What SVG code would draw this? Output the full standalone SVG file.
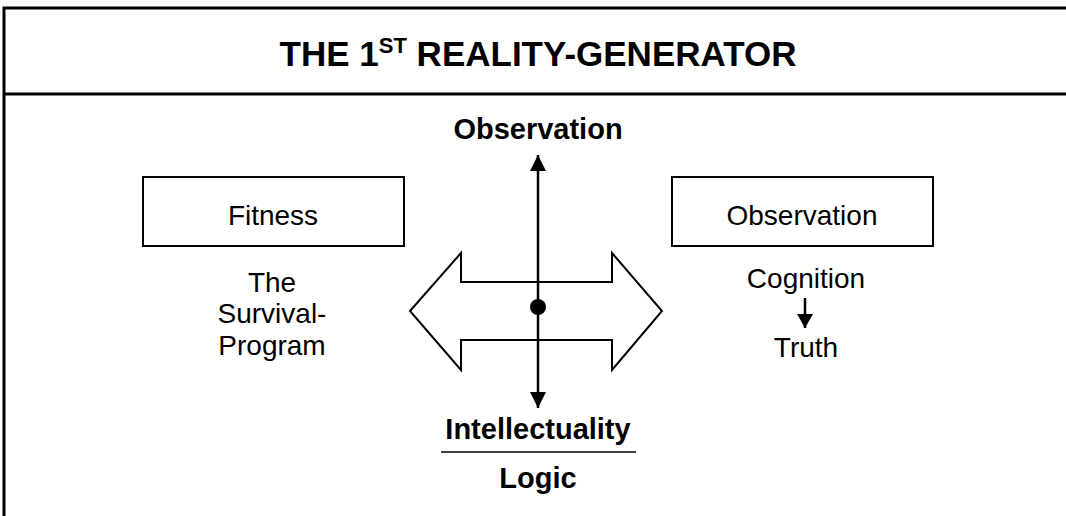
<svg xmlns="http://www.w3.org/2000/svg" width="1066" height="516" viewBox="0 0 1066 516">
  <style>
    .frame { fill: none; stroke: #000; stroke-width: 3; }
    .box { fill: #fff; stroke: #000; stroke-width: 2; }
    .t { font-family: "Liberation Sans", Arial, sans-serif; font-size: 28px; fill: #000; text-anchor: middle; }
    .b { font-weight: bold; font-size: 29px; }
    .title { font-family: "Liberation Sans", Arial, sans-serif; font-weight: bold; font-size: 35px; fill: #000; text-anchor: middle; }
    .ln { stroke: #000; stroke-width: 2.5; fill: none; }
  </style>
  <defs>
    <marker id="ah" markerUnits="userSpaceOnUse" markerWidth="16" markerHeight="16" refX="16" refY="8" orient="auto">
      <path d="M0,0 L16,8 L0,16 z" fill="#000"/>
    </marker>
    <marker id="ahs" markerUnits="userSpaceOnUse" markerWidth="14" markerHeight="16" refX="14" refY="8" orient="auto">
      <path d="M0,0 L14,8 L0,16 z" fill="#000"/>
    </marker>
  </defs>
  <rect width="1066" height="516" fill="#fff"/>
  <g id="frame">
    <path class="frame" d="M4,516 L4,8 L1070,8 M4,94 L1070,94"/>
  </g>
  <g id="title">
    <text class="title" x="538" y="66">THE 1<tspan font-size="22" dy="-13">ST</tspan><tspan dy="13"> REALITY-GENERATOR</tspan></text>
  </g>
  <g id="fitness">
    <rect class="box" x="143" y="177" width="261" height="69"/>
    <text class="t" x="273" y="225">Fitness</text>
  </g>
  <g id="survival">
    <text class="t" x="272" y="292">The</text>
    <text class="t" x="272" y="323">Survival-</text>
    <text class="t" x="272" y="355">Program</text>
  </g>
  <g id="observation-box">
    <rect class="box" x="672" y="177" width="261" height="69"/>
    <text class="t" x="802" y="225">Observation</text>
  </g>
  <g id="cognition">
    <text class="t" x="806" y="288">Cognition</text>
  </g>
  <g id="truth">
    <text class="t" x="806" y="357">Truth</text>
  </g>
  <g id="double-arrow">
    <polygon class="box" points="410,311 461,253 461,282 612,282 612,253 662,311 612,370 612,340 461,340 461,370"/>
  </g>
  <g id="connectors">
    <line class="ln" x1="538" y1="307" x2="538" y2="155" marker-end="url(#ah)"/>
    <line class="ln" x1="538" y1="307" x2="538" y2="408" marker-end="url(#ah)"/>
    <line class="ln" x1="805" y1="298" x2="805" y2="328" marker-end="url(#ahs)"/>
  </g>
  <g id="center-dot">
    <circle cx="538" cy="307" r="8" fill="#000"/>
  </g>
  <g id="observation-label">
    <text class="t b" x="538" y="139">Observation</text>
  </g>
  <g id="intellectuality">
    <text class="t b" x="538" y="439">Intellectuality</text>
    <line x1="441" y1="452" x2="636" y2="452" stroke="#000" stroke-width="1.5"/>
    <text class="t b" x="538" y="488">Logic</text>
  </g>
</svg>
